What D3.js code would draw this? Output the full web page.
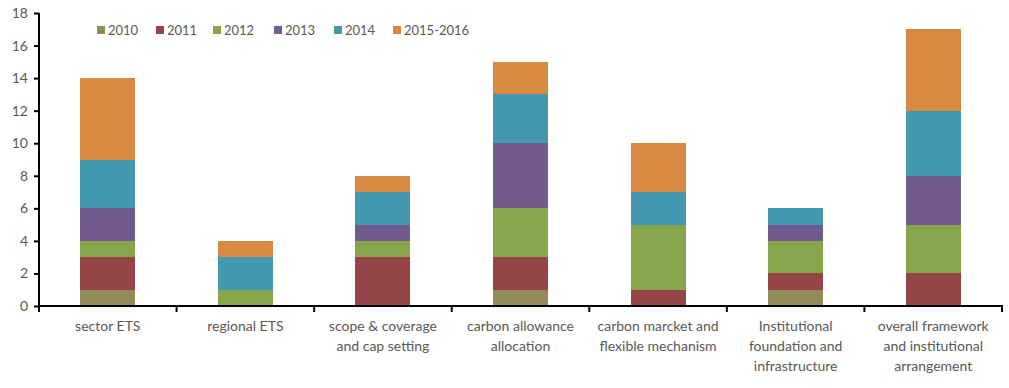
<!DOCTYPE html>
<html>
<head>
<meta charset="utf-8">
<script src="https://cdn.jsdelivr.net/npm/d3@7"></script>
<style>
  body { margin: 0; background: #fff; }
  text { font-family: Lato, "Open Sans", sans-serif; fill: #595959; }
  rect { shape-rendering: crispEdges; }
</style>
</head>
<body>
<div id="chart"></div>
<script>
// data
var categories = ["sector ETS", "regional ETS", "scope & coverage and cap setting",
  "carbon allowance allocation", "carbon marcket and flexible mechanism",
  "Institutional foundation and infrastructure", "overall framework and institutional arrangement"];
var labelLines = [["sector ETS"], ["regional ETS"], ["scope & coverage", "and cap setting"],
  ["carbon allowance", "allocation"], ["carbon marcket and", "flexible mechanism"],
  ["Institutional", "foundation and", "infrastructure"],
  ["overall framework", "and institutional", "arrangement"]];
var seriesNames = ["2010", "2011", "2012", "2013", "2014", "2015-2016"];
var s2010 = [1, 0, 0, 1, 0, 1, 0];
var s2011 = [2, 0, 3, 2, 1, 1, 2];
var s2012 = [1, 1, 1, 3, 4, 2, 3];
var s2013 = [2, 0, 1, 4, 0, 1, 3];
var s2014 = [3, 2, 2, 3, 2, 1, 4];
var s2015 = [5, 1, 1, 2, 3, 0, 5];
var yTicks = [0, 2, 4, 6, 8, 10, 12, 14, 16, 18];
var colors = ["#948A58", "#954447", "#87A64C", "#715A8E", "#4397AE", "#D88942"];

var W = 1009, H = 388;
var margin = { top: 13, right: 7, bottom: 82, left: 39 };
var width = W - margin.left - margin.right,
    height = H - margin.top - margin.bottom;

var svg = d3.select("#chart").append("svg")
    .attr("width", W).attr("height", H)
    .append("g")
    .attr("transform", `translate(${margin.left},${margin.top})`);

var allSeries = [s2010, s2011, s2012, s2013, s2014, s2015];
var rows = categories.map(function (c, i) {
    var o = { cat: c };
    seriesNames.forEach(function (k, j) { o[k] = allSeries[j][i]; });
    return o;
});

var x = d3.scaleBand().domain(categories).range([0, width]).paddingInner(0).paddingOuter(0);
var y = d3.scaleLinear().domain([0, 18]).range([height, 0]);
var z = d3.scaleOrdinal().domain(seriesNames).range(colors);
var barW = x.bandwidth() * 0.4;

var stacked = d3.stack().keys(seriesNames)(rows);

svg.append("g")
    .selectAll("g")
    .data(stacked)
    .enter().append("g")
    .attr("fill", function (d) { return z(d.key); })
    .selectAll("rect")
    .data(function (d) { return d; })
    .enter().append("rect")
    .attr("x", function (d) { return x(d.data.cat) + (x.bandwidth() - barW) / 2; })
    .attr("y", function (d) { return y(d[1]); })
    .attr("height", function (d) { return y(d[0]) - y(d[1]); })
    .attr("width", barW);

// y axis
var yAxis = svg.append("g")
    .call(d3.axisLeft(y).tickValues(yTicks).tickSize(5).tickPadding(6));
yAxis.select(".domain").attr("stroke", "#000").attr("stroke-width", 2).attr("d", `M0,${height}V0`);
yAxis.selectAll(".tick line").attr("stroke", "#000").attr("stroke-width", 2);
yAxis.selectAll(".tick text").attr("font-size", 14).style("fill", "#595959");

// x axis
var xg = svg.append("g").attr("transform", `translate(0,${height})`);
xg.append("line").attr("x1", -1).attr("x2", width + 1).attr("stroke", "#000").attr("stroke-width", 2);
xg.selectAll(".xt")
    .data(d3.range(categories.length + 1))
    .enter().append("line")
    .attr("x1", function (i) { return i * x.bandwidth(); })
    .attr("x2", function (i) { return i * x.bandwidth(); })
    .attr("y1", 0).attr("y2", 6)
    .attr("stroke", "#000").attr("stroke-width", 2);

xg.selectAll(".xl")
    .data(categories)
    .enter().append("text")
    .attr("text-anchor", "middle")
    .attr("font-size", 14)
    .attr("transform", function (d) { return `translate(${x(d) + x.bandwidth() / 2},0)`; })
    .each(function (d, i) {
        var t = d3.select(this);
        labelLines[i].forEach(function (line, k) {
            t.append("tspan").attr("x", 0).attr("y", 25 + k * 20).text(line);
        });
    });

// legend
var legendX = [58, 117, 174, 235, 295, 354];
var legend = svg.append("g")
    .selectAll("g")
    .data(seriesNames)
    .enter().append("g")
    .attr("transform", function (d, i) { return `translate(${legendX[i]},13)`; });
legend.append("rect").attr("width", 8).attr("height", 8).attr("fill", z);
legend.append("text").attr("x", 11).attr("y", 4).attr("dy", "0.35em")
    .attr("font-size", 13).text(function (d) { return d; });
</script>
</body>
</html>
